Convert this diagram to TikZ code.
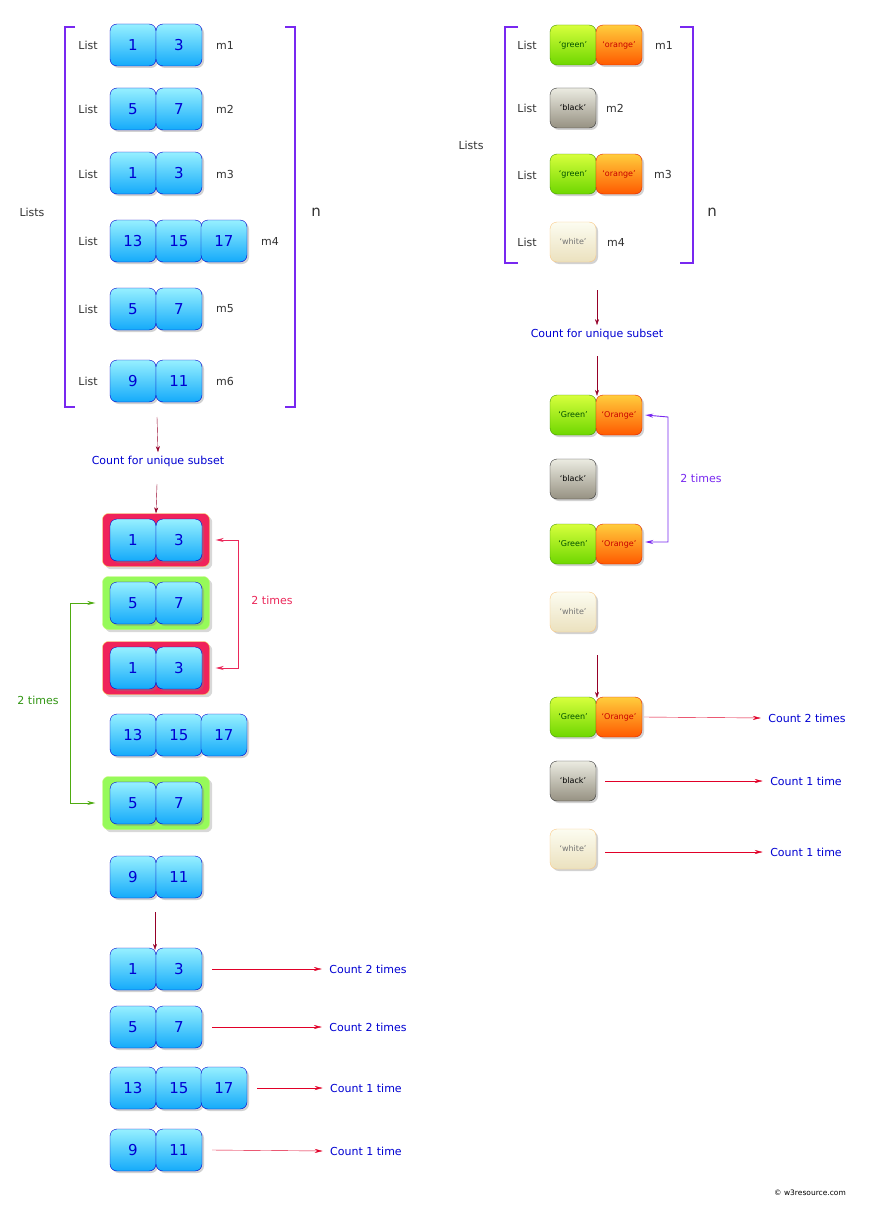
\documentclass[tikz,border=0pt]{standalone}
\usepackage{fontspec}
\setmainfont{DejaVu Sans}
\usetikzlibrary{arrows.meta,shadows}
\definecolor{cblue}{RGB}{0,0,210}
\definecolor{pur}{RGB}{120,40,240}
\definecolor{dred}{RGB}{150,0,40}
\definecolor{pinkc}{RGB}{235,40,90}
\definecolor{grn}{RGB}{50,150,20}
\definecolor{rarr}{RGB}{225,0,40}
\tikzset{
 cell/.style={draw,rounded corners=7pt,minimum width=46pt,minimum height=42pt,inner sep=0pt,drop shadow={opacity=0.35,shadow xshift=2pt,shadow yshift=-2pt}},
 bc/.style={cell,draw=blue!80!black,top color={rgb,255:red,150;green,240;blue,255},bottom color={rgb,255:red,20;green,170;blue,250},text=cblue,font=\fontsize{15}{15}\selectfont},
 sc/.style={cell,minimum height=40pt,font=\fontsize{8}{8}\selectfont},
 gc/.style={sc,draw={rgb,255:red,70;green,150;blue,0},top color={rgb,255:red,215;green,255;blue,60},bottom color={rgb,255:red,110;green,215;blue,0},text={rgb,255:red,0;green,80;blue,0}},
 oc/.style={sc,draw={rgb,255:red,220;green,30;blue,0},top color={rgb,255:red,255;green,205;blue,60},bottom color={rgb,255:red,255;green,90;blue,0},text={rgb,255:red,200;green,0;blue,0}},
 kc/.style={sc,draw=black!80,top color={rgb,255:red,235;green,235;blue,225},bottom color={rgb,255:red,150;green,145;blue,130},text=black},
 wc/.style={sc,draw={rgb,255:red,250;green,200;blue,130},top color={rgb,255:red,252;green,252;blue,240},bottom color={rgb,255:red,235;green,225;blue,190},text=black!55},
 lbl/.style={font=\fontsize{11}{11}\selectfont,text=black!80},
 btxt/.style={font=\fontsize{11}{11}\selectfont,text=cblue},
 brk/.style={pur,line width=1.6pt},
 va/.style={dred,-{Stealth[length=6pt,width=4pt]}},
 ra/.style={rarr,-{Stealth[length=8pt,width=4pt]}},
 hred/.style={rounded corners=6pt,fill={rgb,255:red,240;green,35;blue,90},draw={rgb,255:red,250;green,220;blue,90},minimum width=107pt,minimum height=53pt,drop shadow={opacity=0.3}},
 hgrn/.style={rounded corners=6pt,fill={rgb,255:red,150;green,250;blue,90},draw={rgb,255:red,200;green,250;blue,120},minimum width=107pt,minimum height=53pt,drop shadow={opacity=0.3}},
}
\begin{document}
\begin{tikzpicture}[x=1pt,y=-1pt]
\useasboundingbox[fill=white] (0,0) rectangle (880,1212);
% ---------- LEFT ----------
\node[lbl] (lists) at (32,212) {Lists};
\node[lbl,font=\fontsize{15}{15}\selectfont] (n1) at (316,212) {n};
\draw[brk] (75,27) -- (65,27) -- (65,407) -- (75,407);
\draw[brk] (285,27) -- (295,27) -- (295,407) -- (285,407);
\node[lbl] (l1) at (88,45) {List};
\node[bc] (a1) at (133,45) {1}; \node[bc] (a2) at (179,45) {3};
\node[lbl] (m1) at (225,45) {m1};
\node[lbl] (l2) at (88,109) {List};
\node[bc] (b1) at (133,109) {5}; \node[bc] (b2) at (179,109) {7};
\node[lbl] (m2) at (225,109) {m2};
\node[lbl] (l3) at (88,174) {List};
\node[bc] (c1) at (133,173) {1}; \node[bc] (c2) at (179,173) {3};
\node[lbl] (m3) at (225,174) {m3};
\node[lbl] (l4) at (88,241) {List};
\node[bc] (d1) at (133,241) {13}; \node[bc] (d2) at (179,241) {15}; \node[bc] (d3) at (224,241) {17};
\node[lbl] (m4) at (270,241) {m4};
\node[lbl] (l5) at (88,309) {List};
\node[bc] (e1) at (133,309) {5}; \node[bc] (e2) at (179,309) {7};
\node[lbl] (m5) at (225,309) {m5};
\node[lbl] (l6) at (88,381) {List};
\node[bc] (f1) at (133,381) {9}; \node[bc] (f2) at (179,381) {11};
\node[lbl] (m6) at (225,381) {m6};
\coordinate (s1) at (157,417);
\node[btxt] (cu1) at (158,461) {Count for unique subset};
\draw[va] (s1) -- (cu1.north);
\coordinate (s2) at (157,484);
\node[hred] (h1) at (156,540) {};
\node[hgrn] (h2) at (156,603) {};
\node[hred] (h3) at (156,668) {};
\node[hgrn] (h5) at (156,803) {};
\draw[va] (s2) -- (h1.north);
\node[bc] (g1) at (133,540) {1}; \node[bc] (g2) at (179,540) {3};
\node[bc] (g3) at (133,603) {5}; \node[bc] (g4) at (179,603) {7};
\node[bc] (g5) at (133,668) {1}; \node[bc] (g6) at (179,668) {3};
\node[bc] (g7) at (133,735) {13}; \node[bc] (g8) at (179,735) {15}; \node[bc] (g9) at (224,735) {17};
\node[bc] (g10) at (133,803) {5}; \node[bc] (g11) at (179,803) {7};
\node[bc] (g12) at (133,877) {9}; \node[bc] (g13) at (179,877) {11};
\draw[pinkc,line width=0.9pt,{Stealth[length=8pt,width=4pt]}-{Stealth[length=8pt,width=4pt]}] ([xshift=6pt]h1.east) -- ++(23,0) |- ([xshift=6pt]h3.east);
\node[font=\fontsize{11}{11}\selectfont,text=pinkc] (t1) at (272,600) {2 times};
\draw[grn!80!lime,line width=0.9pt,{Stealth[length=8pt,width=4pt]}-{Stealth[length=8pt,width=4pt]}] ([xshift=-7pt]h2.west) -- (70,603) |- ([xshift=-7pt]h5.west);
\node[font=\fontsize{11}{11}\selectfont,text=grn] (t2) at (38,700) {2 times};
\coordinate (s3) at (155,912);
\node[bc] (r1) at (133,969) {1}; \node[bc] (r2) at (179,969) {3};
\draw[va] (s3) -- ([yshift=-2pt]r1.north -| s3);
\node[bc] (r3) at (133,1027) {5}; \node[bc] (r4) at (179,1027) {7};
\node[bc] (r5) at (133,1088) {13}; \node[bc] (r6) at (179,1088) {15}; \node[bc] (r7) at (224,1088) {17};
\node[bc] (r8) at (133,1150) {9}; \node[bc] (r9) at (179,1150) {11};
\node[btxt] (q1) at (368,969) {Count 2 times};
\node[btxt] (q2) at (368,1027) {Count 2 times};
\node[btxt] (q3) at (366,1088) {Count 1 time};
\node[btxt] (q4) at (366,1151) {Count 1 time};
\draw[ra] ([xshift=10pt]r2.east) -- ([xshift=-4pt]q1.west);
\draw[ra] ([xshift=10pt]r4.east) -- ([xshift=-4pt]q2.west);
\draw[ra] ([xshift=10pt]r7.east) -- ([xshift=-4pt]q3.west);
\draw[ra] ([xshift=10pt]r9.east) -- ([xshift=-4pt]q4.west);
% ---------- RIGHT ----------
\node[lbl] (lists2) at (471,145) {Lists};
\node[lbl,font=\fontsize{15}{15}\selectfont] (n2) at (712,212) {n};
\draw[brk] (518,27) -- (505,27) -- (505,263) -- (518,263);
\draw[brk] (680,27) -- (693,27) -- (693,263) -- (680,263);
\node[lbl] (k1) at (527,45) {List};
\node[gc] (p1) at (573,45) {`green'}; \node[oc] (p2) at (619,45) {`orange'};
\node[lbl] (n1a) at (664,45) {m1};
\node[lbl] (k2) at (527,108) {List};
\node[kc] (p3) at (573,108) {`black'};
\node[lbl] (n2a) at (615,108) {m2};
\node[lbl] (k3) at (527,175) {List};
\node[gc] (p4) at (573,174) {`green'}; \node[oc] (p5) at (619,174) {`orange'};
\node[lbl] (n3a) at (663,174) {m3};
\node[lbl] (k4) at (527,242) {List};
\node[wc] (p6) at (573,242) {`white'};
\node[lbl] (n4a) at (616,242) {m4};
\coordinate (u1) at (597,290);
\node[btxt] (cu2) at (597,334) {Count for unique subset};
\draw[va] (u1) -- (cu2.north);
\coordinate (u2) at (597,356);
\node[gc] (w1) at (573,415) {`Green'}; \node[oc] (w2) at (619,415) {`Orange'};
\draw[va] (u2) -- ([yshift=-1pt]w1.north -| u2);
\node[kc] (w3) at (573,479) {`black'};
\node[gc] (w4) at (573,544) {`Green'}; \node[oc] (w5) at (619,544) {`Orange'};
\node[wc] (w6) at (573,612) {`white'};
\draw[pur,line width=0.9pt,{Stealth[length=8pt,width=4pt]}-{Stealth[length=8pt,width=4pt]}] ([xshift=3pt]w2.east) -- (668,417) |- ([xshift=3pt,yshift=2pt]w5.east);
\node[font=\fontsize{11}{11}\selectfont,text=pur] (t3) at (701,478) {2 times};
\coordinate (u3) at (597,655);
\node[gc] (x1) at (573,717) {`Green'}; \node[oc] (x2) at (619,717) {`Orange'};
\draw[va] (u3) -- ([yshift=-1pt]x1.north -| u3);
\node[kc] (x3) at (573,781) {`black'};
\node[wc] (x4) at (573,849) {`white'};
\node[btxt] (z1) at (807,718) {Count 2 times};
\node[btxt] (z2) at (806,781) {Count 1 time};
\node[btxt] (z3) at (806,852) {Count 1 time};
\draw[ra] ([xshift=2pt]x2.east) -- ([xshift=-4pt]z1.west);
\draw[ra] ([xshift=9pt]x3.east) -- ([xshift=-4pt]z2.west);
\draw[ra] ([xshift=9pt]x4.east |- z3) -- ([xshift=-4pt]z3.west);
\node[font=\fontsize{7.5}{7.5}\selectfont] (cp) at (810,1193) {\textcopyright\ w3resource.com};
\end{tikzpicture}
\end{document}
